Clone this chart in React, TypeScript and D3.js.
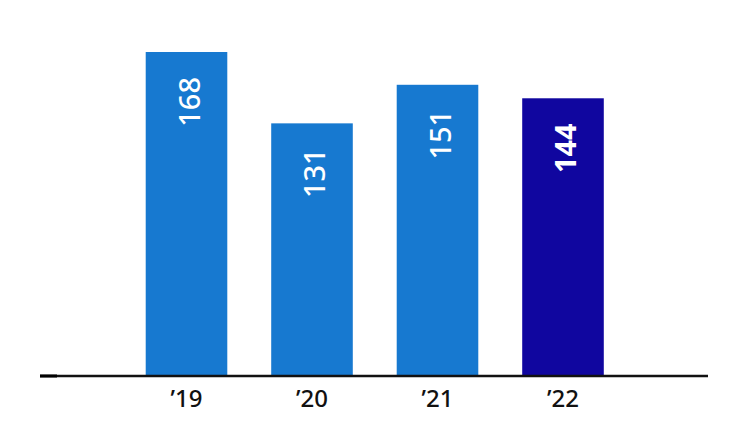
import React from 'react';
import * as d3 from 'd3';

const years = ["\u201919", "\u201920", "\u201921", "\u201922"];
const values = [168, 131, 151, 144];
const highlight = [false, false, false, true];

const W = 750;
const H = 427;

const App: React.FC = () => {
  const x = d3.scaleBand<string>()
    .domain(years)
    .range([123.75, 625.75])
    .paddingInner(0.35)
    .paddingOuter(0.175);

  const y = d3.scaleLinear().domain([0, 168]).range([376, 52]);

  return (
    <svg width={W} height={H} style={{ position: 'absolute', left: 0, top: 0, background: '#fff' }}
      fontFamily="'Noto Sans', 'Open Sans', sans-serif">
      {values.map((v, i) => {
        const xv = x(years[i])!;
        const bw = x.bandwidth();
        const cx = xv + bw / 2;
        const ty = y(v) + 25;
        return (
          <g key={years[i]}>
            <rect x={xv} y={y(v)} width={bw} height={y(0) - y(v)}
              fill={highlight[i] ? '#10069f' : '#1779d0'} />
            <text
              transform={`translate(${cx + 13},${ty}) rotate(-90)`}
              textAnchor="end"
              fill="#fff"
              fontSize={29}
              fontWeight={highlight[i] ? 700 : 500}
            >{v}</text>
            <text x={cx} y={407} textAnchor="middle" fontSize={24} fontWeight={500} fill="#111">{years[i]}</text>
          </g>
        );
      })}
      <line x1={40} x2={708} y1={y(0)} y2={y(0)} stroke="#111" strokeWidth={2.5} />
      <line x1={40} x2={57} y1={y(0)} y2={y(0)} stroke="#000" strokeWidth={3} />
    </svg>
  );
};

export default App;
